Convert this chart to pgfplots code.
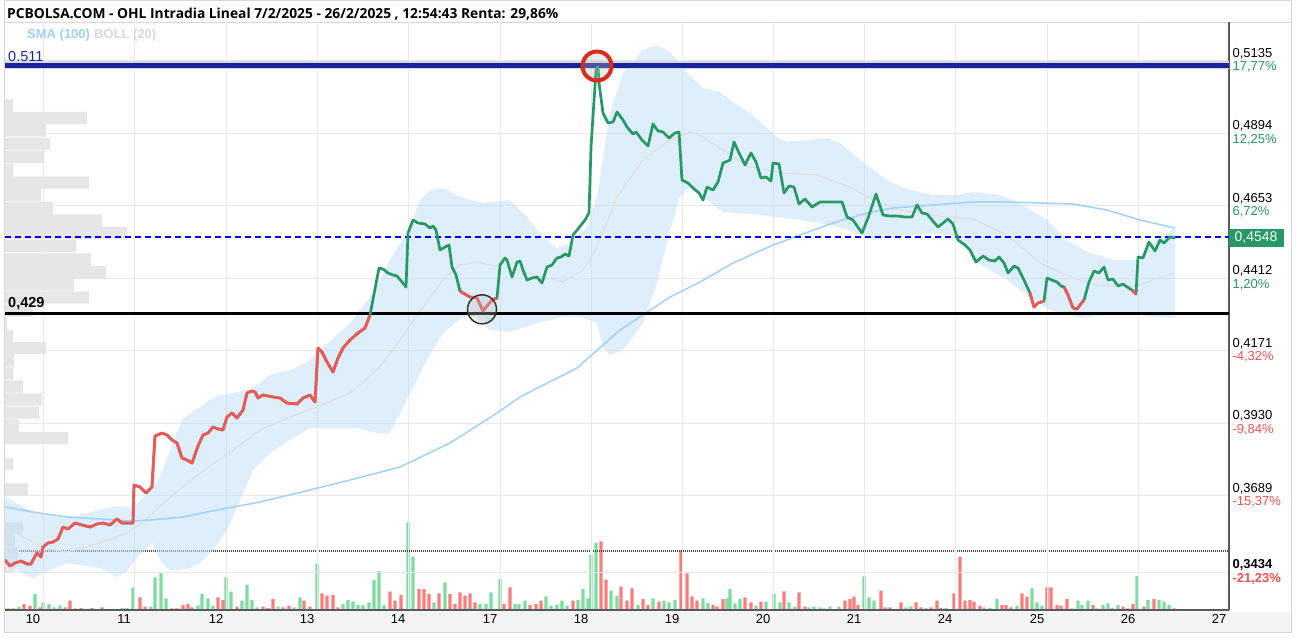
\documentclass[border=0pt]{standalone}
\usepackage{fontspec}
\setmainfont{Liberation Sans}
\newfontfamily\titlefont{Open Sans}
\usepackage{pgfplots}
\pgfplotsset{compat=1.18}
\definecolor{pgreen}{RGB}{38,153,102}
\definecolor{pred}{RGB}{245,85,85}
\definecolor{pctred}{RGB}{250,80,80}
\definecolor{bandfill}{RGB}{190,224,248}
\definecolor{smablue}{RGB}{160,210,245}
\definecolor{midgray}{RGB}{222,222,222}
\definecolor{gridgray}{RGB}{233,233,233}
\definecolor{volgreen}{RGB}{125,220,160}
\definecolor{volred}{RGB}{250,125,125}
\definecolor{navy}{RGB}{24,36,160}
\definecolor{dashblue}{RGB}{0,0,255}
\definecolor{profgray}{RGB}{230,230,230}
\definecolor{strip}{RGB}{244,244,244}
\definecolor{framegray}{RGB}{215,215,215}
\definecolor{axisgray}{RGB}{90,90,90}
\definecolor{circred}{RGB}{215,45,25}

\pgfplotstableread{
x p
5 0.34745
10 0.34545
15 0.34645
21 0.34712
27 0.34612
31 0.34612
33 0.34745
37 0.34978
41 0.34845
43 0.35177
48 0.35310
53 0.35343
58 0.35443
63 0.35842
68 0.35775
75 0.35975
82 0.35908
90 0.35842
97 0.35942
103 0.35975
110 0.35908
117 0.36108
122 0.35975
130 0.35975
133 0.35975
134 0.37238
140 0.37172
146 0.36972
152 0.37172
155 0.38867
162 0.38967
167 0.38900
172 0.38734
177 0.38634
182 0.38136
187 0.38069
192 0.37970
198 0.38535
203 0.38900
208 0.38967
213 0.39166
218 0.39100
223 0.39067
227 0.39499
232 0.39632
237 0.39466
243 0.39732
247 0.40297
252 0.40363
255 0.40330
258 0.40130
263 0.40230
273 0.40164
280 0.40130
287 0.39964
297 0.39931
303 0.40130
310 0.40230
315 0.39998
318 0.41793
322 0.41660
327 0.41327
333 0.40995
338 0.41460
343 0.41793
350 0.42059
358 0.42291
365 0.42458
370 0.42890
379 0.44452
383 0.44419
388 0.44286
393 0.44220
397 0.44186
402 0.43987
406 0.43821
408 0.45616
413 0.46048
418 0.45948
425 0.45915
430 0.45782
433 0.45849
436 0.45716
440 0.45051
445 0.45150
449 0.45217
452 0.44486
456 0.44220
460 0.43688
463 0.43621
470 0.43488
477 0.43455
483 0.43023
487 0.43189
492 0.43388
497 0.43455
500 0.44552
505 0.44785
507 0.44718
512 0.44153
517 0.44652
520 0.44685
523 0.44386
527 0.44053
532 0.44120
537 0.44153
542 0.43954
547 0.44486
552 0.44552
557 0.44785
561 0.44818
565 0.44918
569 0.44851
573 0.45549
578 0.45749
585 0.46048
589 0.46281
591 0.48475
596 0.51035
598 0.51135
599 0.50603
603 0.49605
608 0.49273
613 0.49306
617 0.49639
623 0.49373
627 0.49140
633 0.48907
636 0.48974
642 0.48708
648 0.48508
653 0.49240
658 0.49007
663 0.48974
669 0.48774
675 0.48940
679 0.48974
682 0.47378
688 0.47278
693 0.47112
699 0.46946
703 0.46713
707 0.47145
713 0.47045
718 0.47311
723 0.47943
730 0.48043
734 0.48641
739 0.48276
745 0.47877
751 0.48276
756 0.47976
761 0.47444
766 0.47478
771 0.47345
773 0.47943
779 0.47910
784 0.46946
789 0.47178
794 0.47145
799 0.46580
805 0.46746
812 0.46480
820 0.46647
832 0.46647
842 0.46647
847 0.46148
853 0.46048
862 0.45616
868 0.46115
876 0.46912
883 0.46214
890 0.46181
897 0.46181
905 0.46148
912 0.46148
917 0.46547
922 0.46281
927 0.46248
938 0.45815
948 0.46081
953 0.45915
958 0.45383
965 0.45217
970 0.45051
976 0.44652
983 0.44851
989 0.44718
995 0.44685
999 0.44818
1004 0.44619
1008 0.44286
1014 0.44519
1018 0.44452
1023 0.44120
1030 0.43621
1034 0.43156
1038 0.43289
1044 0.43355
1047 0.44120
1052 0.44053
1057 0.43987
1061 0.43854
1064 0.43821
1068 0.43555
1073 0.43123
1077 0.43089
1080 0.43222
1084 0.43388
1089 0.43987
1094 0.44353
1099 0.44286
1104 0.44486
1108 0.44053
1113 0.44087
1118 0.43854
1123 0.43920
1127 0.43821
1132 0.43721
1136 0.43588
1138 0.44818
1143 0.44785
1149 0.45317
1155 0.45018
1160 0.45383
1164 0.45284
1170 0.45483
1175 0.45450
}\price

% Bollinger band outline: upper band left to right, then lower band right to left
\pgfplotstableread{
x p
5 0.36839
20 0.36573
33 0.36341
43 0.36241
67 0.36141
100 0.36407
117 0.36540
133 0.36507
143 0.36806
160 0.37504
173 0.38634
183 0.39466
200 0.39831
217 0.40197
233 0.40297
253 0.40463
270 0.40895
290 0.41061
307 0.41327
317 0.41627
350 0.42624
373 0.43621
390 0.44718
410 0.45815
420 0.46713
430 0.47045
443 0.47112
463 0.46779
483 0.46613
510 0.46713
527 0.46148
543 0.45483
557 0.45117
570 0.45283
587 0.45815
597 0.46813
610 0.49605
623 0.50935
643 0.51700
657 0.51866
670 0.51633
687 0.50935
703 0.50436
720 0.50303
733 0.49971
750 0.49605
777 0.48807
787 0.48641
827 0.48774
840 0.48608
860 0.48043
887 0.47378
907 0.47079
933 0.46879
957 0.46879
973 0.46979
1000 0.46879
1023 0.46547
1047 0.46048
1067 0.45383
1087 0.44984
1113 0.44718
1137 0.44718
1147 0.45150
1167 0.45616
1175 0.45782
1175 0.42790
1153 0.42823
1133 0.42956
1107 0.42890
1080 0.42790
1050 0.43056
1033 0.43388
1007 0.44053
973 0.44718
960 0.45483
933 0.45616
900 0.45516
873 0.45383
850 0.45716
830 0.45882
800 0.46048
760 0.46214
723 0.46314
703 0.46813
690 0.47145
680 0.46813
670 0.45716
657 0.43954
643 0.42624
623 0.41726
610 0.41560
603 0.41826
597 0.42624
580 0.42823
563 0.42823
537 0.42624
510 0.42325
490 0.42391
477 0.42823
463 0.42823
443 0.42291
423 0.41161
403 0.39831
390 0.38967
377 0.38967
357 0.39133
337 0.39133
310 0.39133
290 0.38734
270 0.38302
253 0.37737
240 0.36739
227 0.35742
213 0.35077
200 0.34645
187 0.34446
170 0.34412
160 0.34745
153 0.35310
143 0.35011
137 0.34845
128 0.34412
117 0.34180
100 0.34479
67 0.34645
33 0.34146
20 0.34346
5 0.34745
}\band

\pgfplotstableread{
x p
5 0.35842
20 0.35576
43 0.35144
67 0.35011
100 0.35310
127 0.35642
143 0.36008
167 0.36739
200 0.37637
233 0.38402
260 0.39067
283 0.39399
317 0.39831
350 0.40297
377 0.41061
400 0.42059
423 0.43156
443 0.44053
460 0.44552
477 0.44652
490 0.44552
503 0.44519
543 0.44153
563 0.43987
583 0.44386
597 0.45150
617 0.46813
643 0.48043
670 0.48708
690 0.48974
703 0.48807
720 0.48442
750 0.47810
783 0.47611
817 0.47544
850 0.47145
873 0.46713
900 0.46381
940 0.46181
973 0.46081
1007 0.45549
1040 0.44619
1073 0.44120
1097 0.43887
1123 0.43854
1140 0.43887
1157 0.44120
1175 0.44286
}\bollmid

\pgfplotstableread{
x p
5 0.36507
33 0.36341
67 0.36174
100 0.36108
133 0.36041
150 0.36075
183 0.36174
217 0.36407
260 0.36673
306 0.37039
350 0.37404
400 0.37837
450 0.38634
497 0.39632
520 0.40164
577 0.41128
620 0.42391
670 0.43488
700 0.43987
733 0.44619
773 0.45217
800 0.45549
833 0.45948
867 0.46281
893 0.46447
933 0.46547
973 0.46647
1007 0.46647
1040 0.46613
1073 0.46580
1107 0.46381
1140 0.46048
1175 0.45782
}\sma

\pgfplotstableread{
w p
13 0.49855
87 0.49439
46 0.49023
50 0.48575
44 0.48143
13 0.47710
89 0.47295
41 0.46879
53 0.46447
102 0.46031
127 0.45616
76 0.45184
91 0.44735
106 0.44319
74 0.43904
89 0.43472
33 0.43039
7 0.42607
13 0.42192
46 0.41793
14 0.41377
13 0.40945
23 0.40513
42 0.40081
39 0.39648
19 0.39216
68 0.38801
13 0.37936
28 0.37089
23 0.35809
15 0.35393
18 0.34961
15 0.34529
}\profile

\begin{document}
\begin{tikzpicture}[x=1pt,y=1pt]
\path[use as bounding box, fill=white] (0,0) rectangle (1296,638);
\fill[strip] (5,6) rectangle (1291,26);
\draw[framegray, line width=0.8pt] (4.5,5.5) rectangle (1291,637.5);
\draw[framegray, line width=0.8pt] (4.5,615.5) -- (1291,615.5);

% volume axis
\begin{axis}[at={(5pt,28pt)}, anchor=south west, width=1224pt, height=588pt,
  scale only axis, xmin=5, xmax=1229, ymin=0, ymax=588, axis lines=none, clip=true]
\addplot[ybar, bar width=3.4, bar shift=0, fill=volgreen, draw=none] coordinates {
(13,1.7)(19,3.3)(35,16)(43,7.7)(49,6)(54,2.7)(60,4.3)(75,1.7)(122,2)(127,2)(133,22.7)(151,3.3)(155,32.7)(161,36.7)(166,11.7)(198,4.3)(202,16)(208,11.7)(213,4.3)(226,32.7)(231,18.3)(242,9.3)(247,25.3)(252,10)(257,2.7)(278,3.3)(294,2.7)(300,12.7)(317,46.7)(343,6)(348,10)(353,8.7)(358,5)(363,5)(369,7.7)(374,30)(379,38.7)(384,5)(408,87.7)(413,53.3)(434,7.7)(445,27.7)(480,6)(486,6)(491,17.7)(500,31)(515,6)(519,6)(525,9.3)(546,13.7)(551,4.3)(557,5.3)(562,9.3)(567,4.3)(578,10)(583,21)(588,11.7)(591,55.3)(596,67)(611,19.3)(617,14.3)(638,5)(653,11.7)(664,9.3)(669,7.7)(675,10)(703,11.7)(708,7)(727,11.7)(730,21)(735,6.7)(740,11)(756,4.3)(766,8.3)(774,16)(780,7.7)(789,7.7)(795,3.3)(809,2.7)(814,3.3)(820,2.7)(824,1.7)(830,3.3)(839,3.3)(864,33.7)(869,12.7)(874,9.3)(906,2.7)(911,3.7)(926,2)(946,2)(984,2.7)(990,2)(997,11)(1017,4.3)(1032,21.7)(1037,7.7)(1042,4.3)(1072,1.7)(1078,9.3)(1082,5)(1088,9.3)(1097,1.7)(1103,5)(1108,6.7)(1118,5)(1137,34)(1148,10)(1159,10)(1164,8.3)(1169,5)};
\addplot[ybar, bar width=3.4, bar shift=0, fill=volred, draw=none] coordinates {
(8,1.7)(24,6)(30,4.3)(40,2.7)(65,2.7)(70,9.3)(81,2)(92,2)(102,2.7)(140,12.7)(145,3.3)(172,1.7)(177,1.7)(183,5)(188,6)(192,2.7)(218,12.7)(223,10)(237,3.3)(263,3.3)(268,2)(273,11)(283,2.7)(289,4.3)(304,9.3)(310,3.3)(322,16.7)(327,14.3)(333,15)(338,2.7)(390,18.3)(395,9.3)(401,15)(419,21)(424,21)(429,16)(439,16.7)(450,16)(455,6)(460,17.7)(465,14.3)(470,16.7)(475,7.7)(504,6)(510,22.7)(530,5)(536,6)(541,9.3)(573,9.3)(601,68.7)(606,30.3)(621,23.3)(627,9.3)(632,21.7)(643,11)(648,5)(659,8.3)(681,60)(687,36.7)(692,13.7)(697,9.3)(713,5)(717,3.3)(723,11)(745,12.7)(751,7.7)(761,8.3)(784,18.7)(799,17.7)(805,3.3)(845,9.3)(850,11)(854,13.3)(858,5)(881,19.3)(885,2.7)(890,2.7)(901,7.7)(916,7.7)(921,2.7)(931,2.7)(937,9.3)(941,2)(954,16.7)(960,53.3)(965,9.3)(970,10)(974,8.3)(980,4.3)(1002,5)(1006,5)(1011,2.7)(1022,16.7)(1027,13.3)(1047,22.7)(1051,22.7)(1057,5)(1061,4.3)(1067,11)(1093,5)(1112,1.7)(1123,3.3)(1128,1.7)(1133,6)(1144,3.3)(1154,11)(1174,1.7)};
\addplot[black!70, line width=1.3pt, dash pattern=on 1pt off 1pt] coordinates {(5,59) (1229,59)};
\end{axis}

% price axis
\begin{axis}[at={(5pt,28pt)}, anchor=south west, width=1224pt, height=588pt,
  scale only axis, xmin=5, xmax=1229, ymin=0.33083, ymax=0.52631,
  axis x line*=bottom, axis y line*=right,
  axis line style={-, draw=axisgray, line width=1.3pt},
  major tick length=0pt,
  grid=major, major grid style={draw=gridgray, line width=0.9pt},
  xtick={43,134,226,317,408,500,591,682,773,864,955,1047,1138,1229},
  xticklabels={10,11,12,13,14,17,18,19,20,21,24,25,26,27},
  xticklabel style={xshift=-10pt, yshift=-1pt, font=\fontsize{13}{13}\selectfont},
  ytick={0.5135,0.4894,0.4653,0.4412,0.4171,0.3930,0.3689,0.3434},
  yticklabels={{0,5135\\\textcolor{pgreen}{17,77\%}},{0,4894\\\textcolor{pgreen}{12,25\%}},{0,4653\\\textcolor{pgreen}{6,72\%}},{0,4412\\\textcolor{pgreen}{1,20\%}},{0,4171\\\textcolor{pctred}{-4,32\%}},{0,3930\\\textcolor{pctred}{-9,84\%}},{0,3689\\\textcolor{pctred}{-15,37\%}},{\bfseries 0,3434\\\textcolor{pctred}{\bfseries -21,23\%}}},
  yticklabel style={align=left, anchor=west, font=\fontsize{13}{13.5}\selectfont},
  clip=true]
\addplot[xbar, bar width=0.0041, bar shift=0, fill=profgray, draw=none] table[x=w, y=p] {\profile};
\addplot[fill=bandfill, fill opacity=0.5, draw=none] table[x=x, y=p] {\band};
\addplot[midgray, line width=1.1pt] table[x=x, y=p] {\bollmid};
\addplot[smablue, line width=1.5pt] table[x=x, y=p] {\sma};
\addplot[black!15, line width=8pt] coordinates {(5,0.5119) (1229,0.5119)};
\addplot[navy, line width=5pt] coordinates {(5,0.5119) (1229,0.5119)};
\addplot[black, line width=3.5pt] coordinates {(5,0.4294) (1229,0.4294)};
\addplot[draw=dashblue, line width=1.3pt, dash pattern=on 6pt off 4pt] coordinates {(5,0.4548) (1229,0.4548)};
\addplot[pgreen, line width=2.7pt, line join=round] table[x=x, y=p] {\price};
\addplot[pred, line width=2.7pt, line join=round, restrict x to domain=0:370] table[x=x, y=p] {\price};
\addplot[pred, line width=2.7pt, line join=round, restrict x to domain=460:497] table[x=x, y=p] {\price};
\addplot[pred, line width=2.7pt, line join=round, restrict x to domain=1030:1044] table[x=x, y=p] {\price};
\addplot[pred, line width=2.7pt, line join=round, restrict x to domain=1064:1084] table[x=x, y=p] {\price};
\addplot[pred, line width=2.7pt, line join=round, restrict x to domain=1132:1136] table[x=x, y=p] {\price};
\addplot[only marks, mark=*, mark size=14.5pt, mark options={draw=black!80, line width=1.5pt, fill=gray!50, fill opacity=0.3, draw opacity=1}] coordinates {(482,0.43079)};
\addplot[only marks, mark=*, mark size=14.5pt, mark options={draw=circred, line width=4pt, fill=gray!50, fill opacity=0.3, draw opacity=1}] coordinates {(597,0.51168)};
\end{axis}

% texts
\node[anchor=west, inner sep=0pt, font=\titlefont\bfseries\fontsize{13.8}{15}\selectfont] at (7,624) {PCBOLSA.COM - OHL Intradia Lineal 7/2/2025 - 26/2/2025 , 12:54:43 Renta: 29,86\%};
\node[anchor=west, inner sep=0pt, font=\bfseries\fontsize{13}{14}\selectfont, text=smablue] at (27,603) {SMA (100)};
\node[anchor=west, inner sep=0pt, font=\bfseries\fontsize{13}{14}\selectfont, text=black!15] at (94,603) {BOLL (20)};
\node[anchor=west, inner sep=0pt, font=\fontsize{14.5}{15}\selectfont, text=navy] at (8,581) {0.511};
\node[anchor=west, inner sep=0pt, font=\bfseries\fontsize{14.5}{15}\selectfont, text=black] at (8,334.5) {0,429};
\node[anchor=west, fill=pgreen, text=white, inner xsep=6pt, minimum height=18pt, font=\fontsize{14}{14}\selectfont] at (1228.5,400) {0,4548};
\end{tikzpicture}
\end{document}
